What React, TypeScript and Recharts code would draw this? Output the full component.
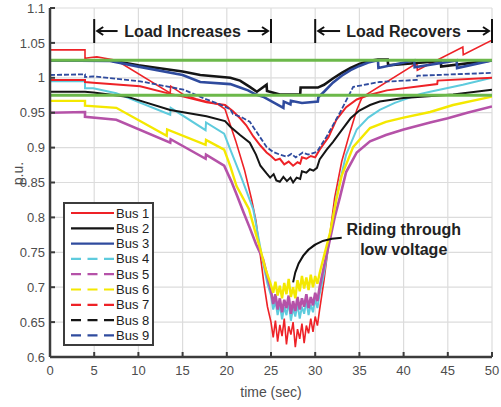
import React from "react";
import { LineChart, Line, XAxis, YAxis, CartesianGrid, ReferenceLine } from "recharts";

type Pt = [number, number];

const FONT = "'Liberation Sans', Arial, Helvetica, sans-serif";
const RED = "#ee2227", BLACK = "#151515", BLUE = "#2f4b9e", CYAN = "#5ecbdd";
const MAGENTA = "#b552a8", YELLOW = "#f4e800", GREEN = "#6cb84a";
const AXIS = "#3c3c3c", TICK = "#4d4d4d";

const X_TICKS = [0, 5, 10, 15, 20, 25, 30, 35, 40, 45, 50];
const Y_TICKS = [0.6, 0.65, 0.7, 0.75, 0.8, 0.85, 0.9, 0.95, 1, 1.05, 1.1];
const LIMITS = [0.975, 1.025];

// [time (sec), voltage (p.u.)]
const bus1: Pt[] = [
  [0, 1.04], [3.96, 1.04], [3.96, 1.028], [4.6, 1.029], [5.3, 1.03], [6.2, 1.028], [7.5, 1.025],
  [13.6, 0.978], [13.65, 0.988], [15.1, 0.976], [16.5, 0.97], [17.7, 0.966], [19.0, 0.962],
  [19.8, 0.955], [21.0, 0.91], [22.0, 0.868], [22.8, 0.826], [23.3, 0.795], [23.8, 0.745],
  [24.2, 0.705], [24.6, 0.672], [25.0, 0.65], [25.25, 0.628], [25.5, 0.652], [25.75, 0.622],
  [26.0, 0.646], [26.25, 0.63], [26.5, 0.655], [26.75, 0.618], [27.0, 0.644], [27.25, 0.632],
  [27.5, 0.65], [27.75, 0.614], [28.0, 0.64], [28.25, 0.626], [28.5, 0.648], [28.75, 0.62],
  [29.0, 0.645], [29.25, 0.634], [29.5, 0.655], [29.75, 0.636], [30.0, 0.658], [30.25, 0.645],
  [30.5, 0.668], [31.0, 0.71], [31.5, 0.76], [32.2, 0.828], [33.0, 0.88], [34.0, 0.925],
  [34.7, 0.954], [35.3, 0.972], [41.5, 1.021], [41.55, 1.011], [46.7, 1.044], [46.75, 1.033],
  [50, 1.054],
];
const bus2: Pt[] = [
  [0, 1.025], [6.8, 1.025], [10, 1.018], [15, 1.009], [17, 1.004], [20.4, 1.0], [21.5, 0.996],
  [22.6, 0.987], [23.4, 0.98], [24.5, 0.99], [24.55, 0.981], [26.0, 0.976], [28.3, 0.976],
  [28.35, 0.986], [30.3, 0.986], [31, 0.99], [32, 0.999], [33, 1.007], [34, 1.014], [35, 1.02],
  [36, 1.024], [37.1, 1.026], [38.2, 1.026], [38.25, 1.018], [44.2, 1.024], [44.25, 1.016],
  [50, 1.025],
];
const bus3: Pt[] = [
  [0, 1.025], [6.8, 1.024], [10, 1.016], [15, 1.004], [17, 0.994], [20.4, 0.991], [21.5, 0.986],
  [22.4, 0.982], [23.3, 0.976], [24.1, 0.973], [26.4, 0.957], [26.45, 0.966], [27.2, 0.962],
  [27.25, 0.967], [28.5, 0.964], [30.3, 0.966], [30.35, 0.972], [31, 0.98], [32, 0.993],
  [33, 1.003], [34, 1.011], [35, 1.017], [36, 1.022], [37.1, 1.025], [37.15, 1.014],
  [41.2, 1.025], [41.25, 1.015], [46, 1.025], [46.05, 1.014], [50, 1.025],
];
const bus4: Pt[] = [
  [0, 0.995], [3.96, 0.995], [3.96, 0.985], [4.9, 0.985], [7.5, 0.978], [13.6, 0.947],
  [13.65, 0.957], [17.6, 0.925], [17.65, 0.936], [19.7, 0.92], [20.4, 0.897], [21.5, 0.862],
  [22.3, 0.835], [23.0, 0.811], [23.6, 0.77], [24.1, 0.735], [24.6, 0.705], [25.0, 0.688],
  [25.25, 0.668], [25.5, 0.68], [25.75, 0.66], [26.0, 0.676], [26.25, 0.654], [26.5, 0.672],
  [26.75, 0.66], [27.0, 0.679], [27.25, 0.652], [27.5, 0.67], [27.75, 0.658], [28.0, 0.676],
  [28.25, 0.655], [28.5, 0.672], [28.75, 0.662], [29.0, 0.68], [29.25, 0.66], [29.5, 0.675],
  [29.75, 0.664], [30.0, 0.684], [30.25, 0.67], [30.5, 0.69], [31.0, 0.72], [31.7, 0.775],
  [32.4, 0.83], [33.5, 0.89], [34.7, 0.926], [36, 0.943], [37.3, 0.954], [39, 0.964],
  [41.9, 0.977], [43, 0.98], [46.7, 0.99], [50, 1.0],
];
const bus5: Pt[] = [
  [0, 0.95], [3.96, 0.951], [3.96, 0.944], [7.5, 0.94], [13.6, 0.907], [13.65, 0.912],
  [17.6, 0.884], [17.65, 0.89], [19.7, 0.874], [20.5, 0.852], [21.2, 0.83], [21.9, 0.807],
  [22.6, 0.785], [23.3, 0.762], [24.1, 0.74], [24.6, 0.715], [25.0, 0.695], [25.25, 0.676],
  [25.5, 0.69], [25.75, 0.668], [26.0, 0.684], [26.25, 0.664], [26.5, 0.682], [26.75, 0.67],
  [27.0, 0.688], [27.25, 0.662], [27.5, 0.68], [27.75, 0.666], [28.0, 0.686], [28.25, 0.668],
  [28.5, 0.684], [28.75, 0.672], [29.0, 0.69], [29.25, 0.67], [29.5, 0.686], [29.75, 0.674],
  [30.0, 0.692], [30.25, 0.68], [30.5, 0.7], [31.0, 0.73], [31.7, 0.77], [32.2, 0.8],
  [32.8, 0.829], [33.5, 0.865], [34.7, 0.893], [36.2, 0.909], [38, 0.918], [40, 0.926],
  [43, 0.936], [45, 0.942], [47.2, 0.95], [50, 0.959],
];
const bus6: Pt[] = [
  [0, 0.967], [3.96, 0.967], [3.96, 0.96], [7.5, 0.957], [13.2, 0.917], [13.25, 0.926],
  [17.6, 0.904], [17.65, 0.911], [19.7, 0.897], [20.4, 0.873], [21.1, 0.845], [22.5, 0.812],
  [23.2, 0.78], [23.8, 0.754], [24.4, 0.725], [24.9, 0.707], [25.25, 0.692], [25.5, 0.708],
  [25.75, 0.688], [26.0, 0.702], [26.25, 0.684], [26.5, 0.706], [26.75, 0.69], [27.0, 0.712],
  [27.25, 0.686], [27.5, 0.7], [27.75, 0.684], [28.0, 0.71], [28.25, 0.694], [28.5, 0.716],
  [28.75, 0.698], [29.0, 0.714], [29.25, 0.696], [29.5, 0.718], [29.75, 0.7], [30.0, 0.716],
  [30.25, 0.705], [30.5, 0.72], [31.0, 0.745], [31.7, 0.779], [32.4, 0.826], [33.0, 0.86],
  [34.3, 0.901], [36.2, 0.928], [38, 0.937], [40, 0.943], [43, 0.951], [45.6, 0.961],
  [50, 0.973],
];
const bus7: Pt[] = [
  [0, 0.997], [3.96, 0.997], [3.96, 0.994], [4.9, 0.993], [10.2, 0.988], [13.6, 0.977],
  [15.1, 0.973], [17.7, 0.965], [19.8, 0.961], [20.7, 0.952], [21.5, 0.942], [22.2, 0.932],
  [23.0, 0.916], [23.8, 0.903], [24.5, 0.893], [25.0, 0.888], [25.5, 0.882], [26.0, 0.884],
  [26.5, 0.876], [27.0, 0.88], [27.5, 0.874], [28.0, 0.879], [28.3, 0.877], [28.5, 0.886],
  [29.0, 0.884], [29.5, 0.888], [30.0, 0.886], [30.5, 0.897], [31.0, 0.906], [31.5, 0.915],
  [32.4, 0.94], [33.5, 0.958], [34.7, 0.969], [36, 0.975], [38.1, 0.982], [43.8, 0.991],
  [43.85, 0.996], [50, 1.0],
];
const bus8: Pt[] = [
  [0, 0.98], [3.96, 0.98], [4.9, 0.979], [8.7, 0.973], [13.6, 0.954], [17.7, 0.945],
  [19.8, 0.938], [20.4, 0.93], [21.5, 0.918], [22.6, 0.907], [23.3, 0.89], [23.8, 0.874],
  [24.5, 0.863], [24.9, 0.857], [25.3, 0.862], [25.6, 0.853], [26.0, 0.851], [26.4, 0.858],
  [26.8, 0.852], [27.2, 0.857], [27.5, 0.85], [27.9, 0.857], [28.3, 0.855], [28.5, 0.866],
  [29.0, 0.864], [29.4, 0.869], [29.8, 0.867], [30.2, 0.871], [30.5, 0.883], [31.3, 0.897],
  [32.0, 0.908], [33.0, 0.925], [34.0, 0.942], [35.0, 0.953], [36.2, 0.961], [37.3, 0.966],
  [40, 0.971], [45.6, 0.976], [50, 0.983],
];
const bus9: Pt[] = [
  [0, 1.004], [3.96, 1.005], [3.96, 1.001], [4.9, 1.002], [10.2, 0.995], [15.1, 0.983],
  [17.7, 0.969], [19.2, 0.962], [20.4, 0.955], [20.7, 0.948], [21.6, 0.944], [22.6, 0.937],
  [23.6, 0.918], [24.5, 0.901], [25.2, 0.894], [26.0, 0.89], [26.8, 0.887], [27.3, 0.891],
  [27.8, 0.886], [28.6, 0.893], [29.2, 0.89], [30.2, 0.894], [31.3, 0.916], [32.8, 0.95],
  [34.3, 0.987], [37.3, 0.994], [41.5, 0.997], [41.55, 1.003], [50, 1.007],
];

const SERIES = [
  { name: "Bus 1", data: bus1, color: RED, width: 1.6, dash: "" },
  { name: "Bus 2", data: bus2, color: BLACK, width: 2.6, dash: "" },
  { name: "Bus 3", data: bus3, color: BLUE, width: 2.6, dash: "" },
  { name: "Bus 4", data: bus4, color: CYAN, width: 2, dash: "" },
  { name: "Bus 5", data: bus5, color: MAGENTA, width: 2.6, dash: "" },
  { name: "Bus 6", data: bus6, color: YELLOW, width: 2.4, dash: "" },
  { name: "Bus 7", data: bus7, color: RED, width: 2, dash: "" },
  { name: "Bus 8", data: bus8, color: BLACK, width: 2, dash: "" },
  { name: "Bus 9", data: bus9, color: BLUE, width: 1.8, dash: "5 2" },
];

const toRows = (pts: Pt[]) => pts.map(([t, v]) => ({ t, v }));

const fmtY = (v: number) => String(Number(v.toFixed(2)));

// |<-- text -->| spanning two instants
const spanArrow = (text: string, textW: number) => (p: any) => {
  const { x1, y1, x2 } = p;
  const mid = (x1 + x2) / 2;
  const l = mid - textW / 2 - 6, r = mid + textW / 2 + 6;
  const a = x1 + 3, b = x2 - 3;
  return (
    <g stroke="#111" strokeWidth={2} fill="none">
      <line x1={x1} y1={y1 - 12} x2={x1} y2={y1 + 12} />
      <line x1={x2} y1={y1 - 12} x2={x2} y2={y1 + 12} />
      <line x1={l} y1={y1} x2={a} y2={y1} />
      <polyline points={`${a + 6},${y1 - 4} ${a},${y1} ${a + 6},${y1 + 4}`} />
      <line x1={r} y1={y1} x2={b} y2={y1} />
      <polyline points={`${b - 6},${y1 - 4} ${b},${y1} ${b - 6},${y1 + 4}`} />
      <text x={mid} y={y1 + 6} textAnchor="middle" stroke="none" fill="#222"
        fontSize={16} fontWeight={700} fontFamily={FONT}>{text}</text>
    </g>
  );
};

const ridingNote = (p: any) => {
  const { x1, y1, x2, y2 } = p;
  return (
    <g>
      <path d={`M${x1},${y1} Q${x2 + 7},${y1 + 1} ${x2},${y2}`} stroke="#111" strokeWidth={2} fill="none" />
      <text x={x1 + 62} y={y1 - 3} textAnchor="middle" fill="#222" fontSize={16}
        fontWeight={700} fontFamily={FONT}>Riding through</text>
      <text x={x1 + 62} y={y1 + 17} textAnchor="middle" fill="#222" fontSize={16}
        fontWeight={700} fontFamily={FONT}>low voltage</text>
    </g>
  );
};

function LegendBox() {
  return (
    <div style={{ position: "absolute", left: 63, top: 202, width: 91, height: 144,
      border: `2.5px solid ${AXIS}`, background: "#fff", boxSizing: "border-box" }}>
      <svg width={86} height={140} style={{ display: "block" }}>
        {SERIES.map((s, i) => {
          const y = 9 + i * 15.3;
          return (
            <g key={s.name}>
              <line x1={6} x2={49} y1={y} y2={y} stroke={s.color} strokeWidth={2.2}
                strokeDasharray={i >= 3 ? "10 6.5" : undefined} />
              <text x={51} y={y + 4.5} fontSize={13} fill="#222" fontFamily={FONT}>{s.name}</text>
            </g>
          );
        })}
      </svg>
    </div>
  );
}

export default function App() {
  return (
    <div style={{ position: "absolute", left: 0, top: 0, width: 501, height: 407,
      background: "#fff", fontFamily: FONT }}>
      <LineChart width={501} height={407} margin={{ top: 8, right: 9, bottom: 0, left: 0 }}>
        <CartesianGrid stroke="#dcdcdc" strokeWidth={1.2} />
        <XAxis dataKey="t" type="number" domain={[0, 50]} ticks={X_TICKS} height={50}
          allowDataOverflow tickSize={-5} tickMargin={14}
          tick={{ fontSize: 13, fill: TICK, fontFamily: FONT }}
          axisLine={{ stroke: AXIS, strokeWidth: 2.5 }} tickLine={{ stroke: AXIS, strokeWidth: 2 }}
          label={{ content: (lp: any) => {
            const vb = lp.viewBox || { x: 50, y: 357, width: 442, height: 50 };
            return <text x={vb.x + vb.width / 2 - 0} y={vb.y + 40} textAnchor="middle"
              fontSize={14} fill={TICK} fontFamily={FONT}>time (sec)</text>;
          } }} />
        <YAxis type="number" domain={[0.6, 1.1]} ticks={Y_TICKS} width={50}
          allowDataOverflow tickSize={-5} tickMargin={10} tickFormatter={fmtY}
          tick={{ fontSize: 13, fill: TICK, fontFamily: FONT }}
          axisLine={{ stroke: AXIS, strokeWidth: 2.5 }} tickLine={{ stroke: AXIS, strokeWidth: 2 }}
          label={{ content: (lp: any) => {
            const vb = lp.viewBox || { x: 0, y: 8, width: 50, height: 349 };
            const cx = vb.x + 19, cy = vb.y + vb.height / 2 - 9;
            return <text x={cx} y={cy} textAnchor="middle" dominantBaseline="middle"
              transform={`rotate(-90, ${cx}, ${cy})`} fontSize={14} fill={TICK}
              fontFamily={FONT}>p.u.</text>;
          } }} />
        {SERIES.map((s) => (
          <Line key={s.name} data={toRows(s.data)} dataKey="v" name={s.name} type="linear"
            stroke={s.color} strokeWidth={s.width} strokeDasharray={s.dash || undefined}
            dot={false} activeDot={false} isAnimationActive={false} />
        ))}
        {LIMITS.map((y) => (
          <ReferenceLine key={y} y={y} stroke={GREEN} strokeWidth={3} />
        ))}
        <ReferenceLine segment={[{ x: 5, y: 1.067 }, { x: 25, y: 1.067 }]}
          shape={spanArrow("Load Increases", 118)} />
        <ReferenceLine segment={[{ x: 30, y: 1.067 }, { x: 50, y: 1.067 }]}
          shape={spanArrow("Load Recovers", 115)} />
        <ReferenceLine segment={[{ x: 33.0, y: 0.771 }, { x: 27.5, y: 0.707 }]}
          shape={ridingNote} />
      </LineChart>
      <LegendBox />
    </div>
  );
}
